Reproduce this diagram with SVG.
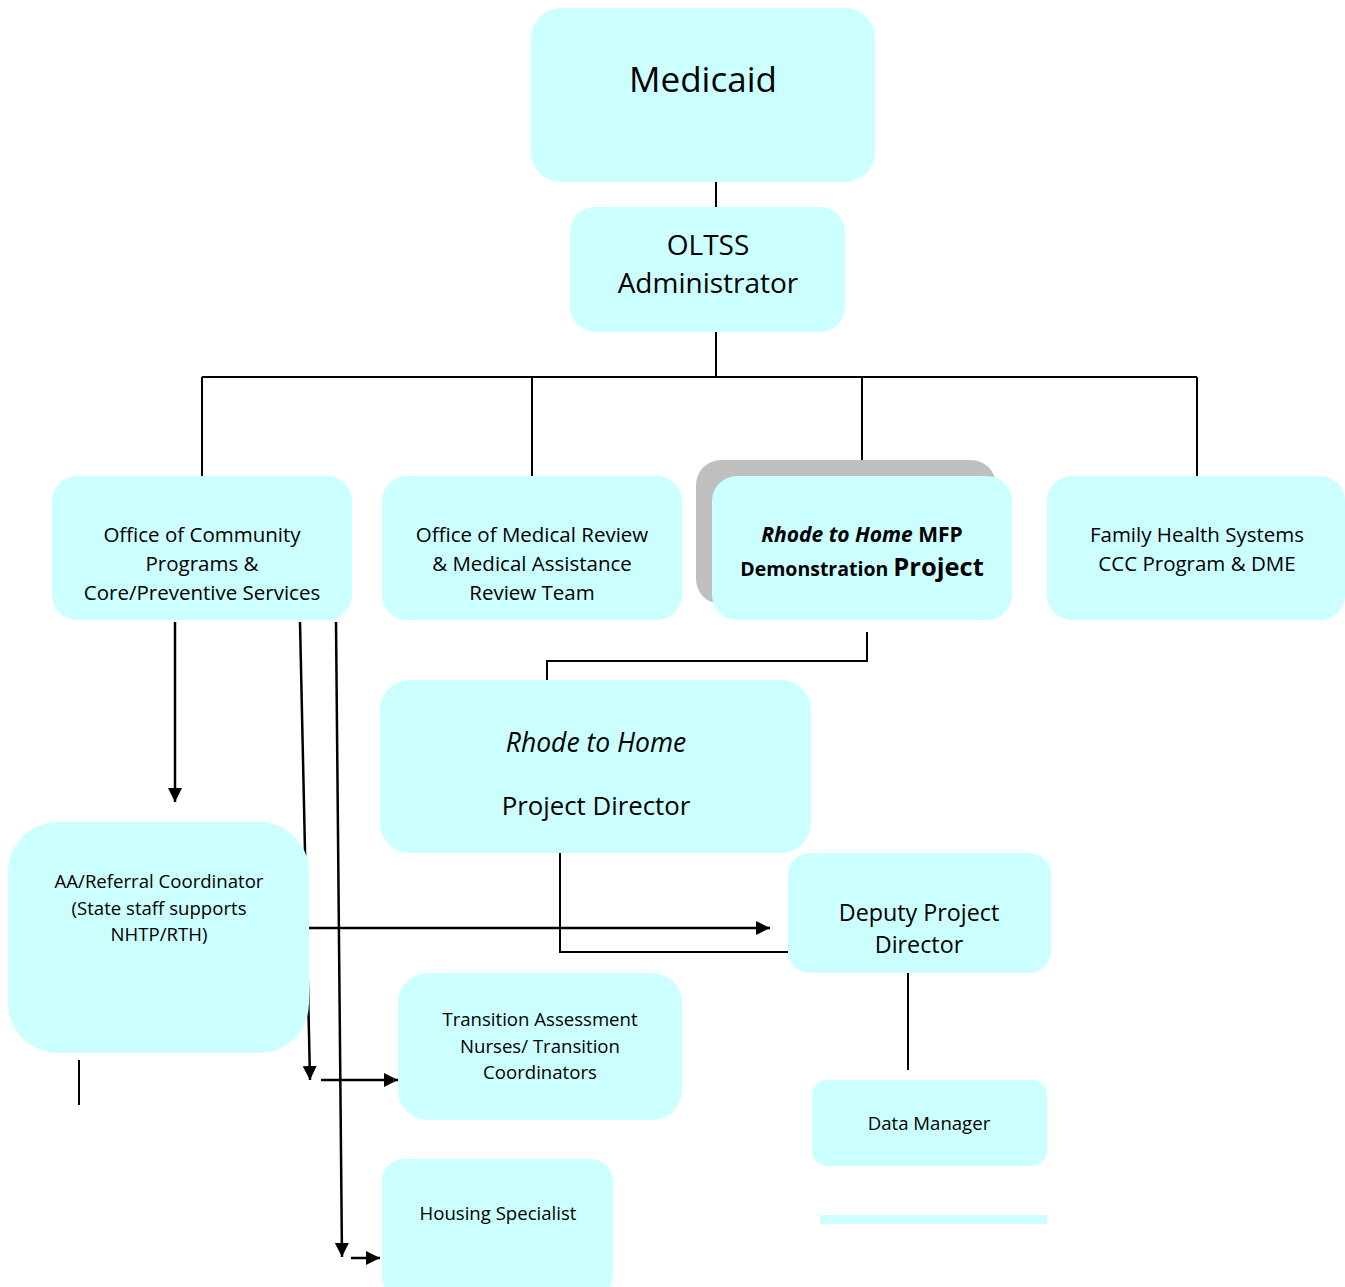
<svg xmlns="http://www.w3.org/2000/svg" width="1345" height="1287" viewBox="0 0 1345 1287">
<style>
.n{fill:#CCFFFF;}
.sh{fill:#BFBFBF;}
text{font-family:"Open Sans","Noto Sans","DejaVu Sans",sans-serif;fill:#000;text-anchor:middle;}
.m{font-size:20.5px;}
.s{font-size:18.6px;}
.c{stroke:#000;stroke-width:2;fill:none;}
.a{stroke:#000;stroke-width:2.5;fill:none;marker-end:url(#ah);}
</style>
<defs>
<marker id="ah" markerUnits="userSpaceOnUse" markerWidth="16" markerHeight="16" refX="14" refY="7" orient="auto">
<path d="M0,0 L14,7 L0,14 Z" fill="#000"/>
</marker>
</defs>
<rect width="1345" height="1287" fill="#fff"/>

<g id="connectors">
<path class="c" d="M716,182 V207"/>
<path class="c" d="M716,332 V377"/>
<path class="c" d="M202,377 H1197"/>
<path class="c" d="M202,377 V476 M532,377 V476 M862,377 V476 M1197,377 V476"/>
<path class="c" d="M867,632 V661 H547 V680"/>
<path class="c" d="M560,853 V952 H788"/>
<path class="c" d="M908,973 V1070"/>
<path class="c" d="M79,1060 V1105"/>
<path class="a" d="M175,622 V802"/>
<path class="a" d="M300,622 L310,1080"/>
<path class="a" d="M336,622 L342,1257"/>
<path class="a" d="M321,1080 H398"/>
<path class="a" d="M351,1258 H380"/>
<path class="a" d="M309,928 H770"/>
</g>

<g id="medicaid">
<rect class="n" x="531" y="8" width="344" height="174" rx="30"/>
<text x="703" y="92" font-size="35">Medicaid</text>
</g>

<g id="oltss">
<rect class="n" x="570" y="207" width="275" height="125" rx="25"/>
<text x="708" y="255" font-size="28">OLTSS</text>
<text x="708" y="293" font-size="28">Administrator</text>
</g>

<g id="community">
<rect class="n" x="52" y="476" width="300" height="144" rx="25"/>
<text class="m" x="202" y="542">Office of Community</text>
<text class="m" x="202" y="571">Programs &amp;</text>
<text class="m" x="202" y="600">Core/Preventive Services</text>
</g>

<g id="medreview">
<rect class="n" x="382" y="476" width="300" height="144" rx="25"/>
<text class="m" x="532" y="542">Office of Medical Review</text>
<text class="m" x="532" y="571">&amp; Medical Assistance</text>
<text class="m" x="532" y="600">Review Team</text>
</g>

<g id="rthmfp">
<rect class="sh" x="696" y="460" width="300" height="144" rx="25"/>
<rect class="n" x="712" y="476" width="300" height="144" rx="25"/>
<text x="862" y="542" font-size="21" font-weight="bold"><tspan font-style="italic">Rhode to Home</tspan> MFP</text>
<text x="862" y="576" font-weight="bold"><tspan font-size="19.5">Demonstration </tspan><tspan font-size="25.5">Project</tspan></text>
</g>

<g id="family">
<rect class="n" x="1047" y="476" width="298" height="144" rx="25"/>
<text class="m" x="1197" y="542">Family Health Systems</text>
<text class="m" x="1197" y="571">CCC Program &amp; DME</text>
</g>

<g id="director">
<rect class="n" x="380" y="680" width="431" height="173" rx="30"/>
<text x="596" y="752" font-size="26.5" font-style="italic">Rhode to Home</text>
<text x="596" y="815" font-size="25.8">Project Director</text>
</g>

<g id="deputy">
<rect class="n" x="788" y="853" width="263" height="120" rx="22"/>
<text x="919" y="921" font-size="23.3">Deputy Project</text>
<text x="919" y="953" font-size="23.3">Director</text>
</g>

<g id="aa">
<rect class="n" x="8" y="822" width="301" height="231" rx="50"/>
<text class="s" x="159" y="888">AA/Referral Coordinator</text>
<text class="s" x="159" y="915">(State staff supports</text>
<text class="s" x="159" y="941">NHTP/RTH)</text>
</g>

<g id="transition">
<rect class="n" x="398" y="973" width="284" height="147" rx="30"/>
<text class="s" x="540" y="1026">Transition Assessment</text>
<text class="s" x="540" y="1053">Nurses/ Transition</text>
<text class="s" x="540" y="1079">Coordinators</text>
</g>

<g id="datamanager">
<rect class="n" x="812" y="1080" width="235" height="86" rx="15"/>
<text class="s" x="929" y="1130">Data Manager</text>
</g>

<g id="bar">
<rect class="n" x="820" y="1215" width="227" height="9"/>
</g>

<g id="housing">
<rect class="n" x="382" y="1159" width="231" height="140" rx="22"/>
<text class="s" x="498" y="1220">Housing Specialist</text>
</g>
</svg>
